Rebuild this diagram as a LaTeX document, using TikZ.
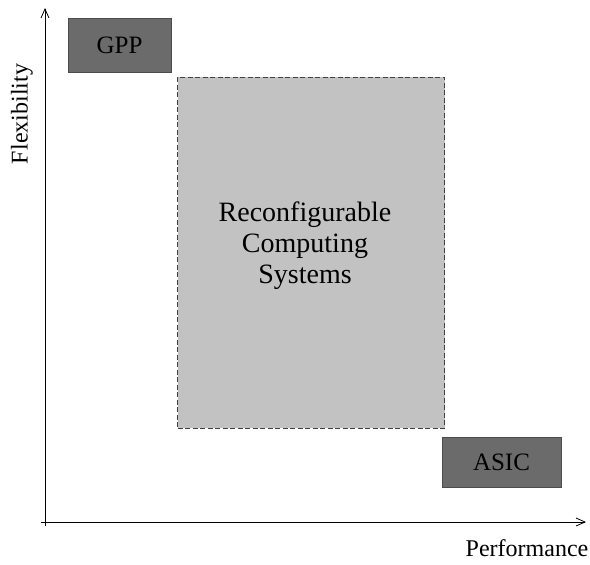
\documentclass[tikz,border=0pt]{standalone}
\usepackage{fontspec}
\setmainfont{Liberation Serif}
\usetikzlibrary{arrows.meta}
\begin{document}
\begin{tikzpicture}[x=1pt,y=-1pt,
  axis/.style={line width=0.9pt,-{Straight Barb[length=9pt,width=8pt,line width=0.8pt]}},
  darkbox/.style={fill=black!58,draw=black!70,line width=0.4pt,font=\fontsize{25}{28}\selectfont},
  rcbox/.style={fill=black!24,draw=black!75,dashed,dash pattern=on 5pt off 2.5pt,line width=0.8pt},
  lbl/.style={font=\fontsize{24}{28}\selectfont}]
\useasboundingbox (0,0) rectangle (590,565);
\coordinate (ytip) at (45,8);
\coordinate (xtip) at (586,522);
\coordinate (ybase) at (45,526);
\coordinate (xbase) at (41,522);
\draw[axis] (ybase) -- (ytip);
\draw[axis] (xbase) -- (xtip);
\node[darkbox,minimum width=103pt,minimum height=54pt,inner sep=0pt] (gpp) at (119.5,45) {GPP};
\node[rcbox,minimum width=267pt,minimum height=351pt,inner sep=0pt] (rcs) at (311,252.5) {};
\node[align=center,font=\fontsize{28}{31}\selectfont] (rcstext) at (305,246) {Reconfigurable\\Computing\\Systems};
\node[darkbox,minimum width=119pt,minimum height=50pt,inner sep=0pt] (asic) at (501.5,462) {ASIC};
\node[lbl,rotate=90] (flex) at (22,114) {Flexibility};
\node[lbl] (perf) at (527,548) {Performance};
\end{tikzpicture}
\end{document}
